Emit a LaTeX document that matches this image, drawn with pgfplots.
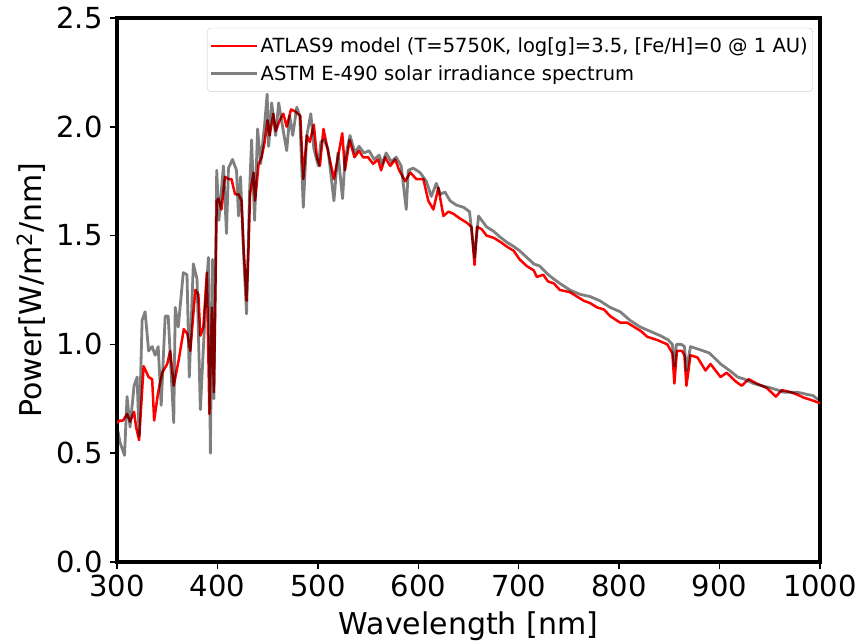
\documentclass[border=0pt]{standalone}
\usepackage{fontspec}
\setmainfont{DejaVu Sans}
\usepackage{pgfplots}
\pgfplotsset{compat=1.18}
\begin{document}
\begin{tikzpicture}
\begin{axis}[
 scale only axis, width=703pt, height=544pt,
 xmin=300, xmax=1000, ymin=0, ymax=2.5,
 xtick={300,400,...,1000}, ytick={0,0.5,1,1.5,2,2.5},
 xtick pos=bottom, ytick pos=left,
 /pgf/number format/assume math mode=true,
 /pgf/number format/1000 sep={},
 yticklabel style={/pgf/number format/fixed, /pgf/number format/fixed zerofill, /pgf/number format/precision=1, xshift=-4pt},
 xticklabel style={yshift=-2pt},
 ticklabel style={font=\fontsize{29}{34}\selectfont},
 tick align=outside, major tick length=7pt,
 every tick/.style={black, line width=1.5pt},
 axis line style={line width=3.5pt},
 label style={font=\fontsize{30}{36}\selectfont},
 xlabel={Wavelength [nm]}, ylabel={Power[W/m\textsuperscript{2}/nm]},
 xlabel style={at={(rel axis cs:0.5,-0.1324)}, anchor=base},
 ylabel style={at={(rel axis cs:-0.1067,0.5)}, anchor=base},
 legend style={at={(rel axis cs:0.99,0.982)}, anchor=north east, draw=black!20, rounded corners=4pt, fill=white, fill opacity=0.8, text opacity=1, font=\fontsize{19.5}{23}\selectfont, row sep=7pt, inner xsep=3pt, inner ysep=8pt},
 legend cell align=left,
 legend image code/.code={\draw[#1, line width=2.5pt] (0pt,0pt) -- (46pt,0pt);},
]
\addplot[red, line width=2.5pt, line join=round] coordinates {
(300,0.64) (303,0.65) (306,0.65) (310,0.68) (313,0.645) (317,0.69) (319,0.62) (322,0.56)
(326.5,0.90) (331.5,0.85) (335,0.84) (337,0.65) (341,0.78) (345,0.87) (350,0.91) (353,0.97)
(356.5,0.81) (361.5,0.93) (366.5,1.07) (370,1.05) (373,0.97) (378,1.25) (381,1.23) (383,1.04)
(386,1.08) (389.5,1.33) (392,0.68) (394.5,1.17) (396.5,0.78) (399.3,1.66) (401,1.67) (404,1.62)
(407.5,1.77) (411,1.76) (414,1.76) (417.5,1.69) (421,1.69) (424,1.66) (426,1.45) (429,1.20)
(431,1.45) (432.5,1.69) (436,1.79) (437.5,1.66) (441,1.83) (444,1.86) (447,1.93) (450,2.03)
(452,1.96) (455.7,2.06) (458,1.98) (462,2.03) (465.6,2.06) (469,2.00) (473.3,2.08) (477.6,2.07)
(482.5,2.05) (485.5,1.76) (489,1.96) (492,1.93) (496,2.01) (499,1.86) (502,1.82) (505.6,1.99)
(510,1.89) (516,1.76) (520,1.86) (524.3,1.97) (527,1.80) (531.6,1.94) (536.5,1.86) (541,1.89)
(545,1.86) (550,1.86) (555,1.83) (560,1.85) (563,1.80) (567,1.86) (572,1.82) (577,1.85)
(581,1.80) (587,1.75) (592,1.79) (598,1.76) (605,1.76) (610,1.66) (615,1.62) (620,1.72)
(625,1.59) (630,1.61) (635,1.60) (641,1.58) (648,1.56) (653,1.54) (656,1.365) (658.5,1.54)
(663,1.53) (668,1.50) (675,1.49) (682,1.47) (688,1.45) (695,1.43) (701,1.39) (708,1.36)
(715,1.34) (718,1.31) (724.5,1.32) (729,1.29) (735,1.28) (741,1.25) (751,1.24) (758,1.22)
(765,1.20) (771,1.19) (778,1.17) (785,1.16) (791,1.13) (801,1.10) (808,1.10) (815,1.08)
(822,1.06) (828,1.035) (838,1.02) (848,1.00) (851,0.975) (853,0.96) (855,0.82) (857.5,0.97)
(862.6,0.97) (865,0.95) (867,0.81) (871,0.95) (878,0.94) (886,0.88) (891,0.91) (901,0.85)
(907,0.87) (916,0.83) (922,0.81) (929,0.84) (937,0.82) (947,0.80) (956,0.76) (962,0.79)
(971,0.78) (977,0.77) (984,0.755) (991,0.745) (1000,0.73)
};
\addlegendentry{ATLAS9 model (T=5750K, log[g]=3.5, [Fe/H]=0 @ 1 AU)}
\addplot[black, draw opacity=0.5, line width=2.8pt, line join=round] coordinates {
(300,0.45) (301,0.60) (303,0.55) (307.5,0.49) (310,0.76) (313,0.62) (317,0.81) (320,0.85)
(322,0.58) (325,1.11) (328,1.15) (331.5,0.97) (335,0.99) (338,0.95) (341,0.99) (344,0.72)
(348,1.13) (351,1.13) (356.5,0.64) (358,1.17) (361,1.08) (366,1.33) (369.7,1.32) (372,0.85)
(376,1.37) (379.7,1.30) (383,0.70) (388,1.17) (391,1.40) (393,0.50) (395,1.39) (396.5,0.75)
(399.3,1.80) (401.5,1.57) (406,1.82) (409,1.51) (411,1.81) (415,1.85) (419,1.80) (421,1.59)
(423,1.77) (426,1.42) (429,1.14) (432,1.70) (434,1.94) (437,1.57) (440,1.99) (443,1.83)
(447,2.01) (449.5,2.15) (451,1.91) (454,2.11) (458,1.96) (461,2.11) (465.6,1.98) (469,1.89)
(472,2.05) (475,1.96) (479,2.09) (482,2.05) (485.5,1.63) (489,1.96) (493,2.06) (496,1.90)
(500.5,1.82) (503,1.93) (506,1.94) (510,1.90) (516,1.66) (520,1.88) (524.6,1.67) (527,1.85)
(532,1.96) (537,1.88) (541,1.91) (546,1.88) (551,1.89) (556,1.85) (561,1.87) (564,1.83)
(568,1.88) (573,1.84) (578,1.86) (583,1.82) (588,1.62) (590,1.80) (595,1.81) (601.7,1.79)
(608,1.75) (613,1.68) (618,1.74) (622,1.69) (626.6,1.70) (631.6,1.66) (638,1.64) (645,1.63)
(651,1.61) (656,1.40) (660,1.59) (668,1.54) (675,1.52) (681,1.495) (688,1.47) (695,1.45)
(701,1.43) (708,1.40) (715,1.37) (721,1.36) (729.5,1.32) (735,1.30) (741,1.28) (751,1.25)
(761,1.23) (771,1.22) (781,1.20) (791,1.17) (801,1.15) (811,1.11) (821,1.08) (831,1.06)
(841,1.04) (849,1.02) (853,1.00) (855,0.90) (857,1.00) (862,1.00) (865,0.99) (867,0.88)
(871,0.99) (884,0.97) (890,0.96) (901,0.91) (910,0.88) (918,0.85) (925,0.84) (934,0.82)
(942,0.81) (951,0.80) (958,0.79) (964,0.78) (971,0.78) (977,0.78) (983,0.775) (987,0.77)
(993,0.765) (997,0.75) (1000,0.745)
};
\addlegendentry{ASTM E-490 solar irradiance spectrum}
\end{axis}
\path (current axis.south west) ++(-117pt,-81pt) (current axis.north east) ++(42pt,18pt);
\end{tikzpicture}
\end{document}
